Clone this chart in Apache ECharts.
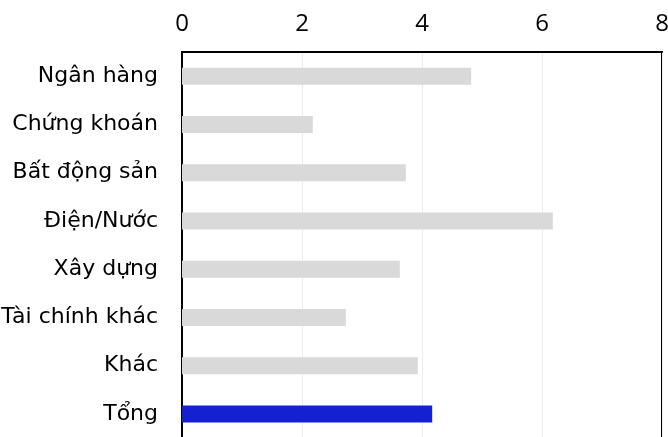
<!DOCTYPE html>
<html><head><meta charset="utf-8">
<script src="https://cdn.jsdelivr.net/npm/echarts@6/dist/echarts.min.js"></script>
<style>html,body{margin:0;padding:0;background:#fff}#c{width:668px;height:437px}</style>
</head><body><div id="c"></div>
<script>
const categories = ["Ngân hàng","Chứng khoán","Bất động sản","Điện/Nước","Xây dựng","Tài chính khác","Khác","Tổng"];
const values = [4.82, 2.18, 3.73, 6.18, 3.63, 2.73, 3.93, 4.17];
const xTicks = [0, 2, 4, 6, 8];
const grayColor = "#d9d9d9";
const blueColor = "#1520d0";

const chart = echarts.init(document.getElementById('c'));
chart.setOption({
  animation: false,
  grid: { left: 182, top: 52, width: 480, height: 386, show: true, borderColor: '#000', borderWidth: 2, containLabel: false, outerBoundsMode: 'none' },
  xAxis: {
    type: 'value', position: 'top', min: xTicks[0], max: xTicks[xTicks.length-1], interval: 2,
    axisLine: { show: true, lineStyle: { color: '#000', width: 2 } },
    axisTick: { show: false },
    axisLabel: { fontFamily: 'Open Sans', fontSize: 24, color: '#000', margin: 16 },
    splitLine: { show: true, lineStyle: { color: '#e6edf5', width: 1 } }
  },
  yAxis: {
    type: 'category', inverse: true, data: categories,
    axisLine: { show: true, lineStyle: { color: '#000', width: 2 } },
    axisTick: { show: false },
    axisLabel: { fontFamily: 'DejaVu Sans', fontSize: 22, color: '#000', margin: 24 }
  },
  series: [{
    type: 'bar', barWidth: 17,
    data: values.map((v, i) => ({ value: v, itemStyle: { color: i === values.length - 1 ? blueColor : grayColor } }))
  }]
});
</script></body></html>
